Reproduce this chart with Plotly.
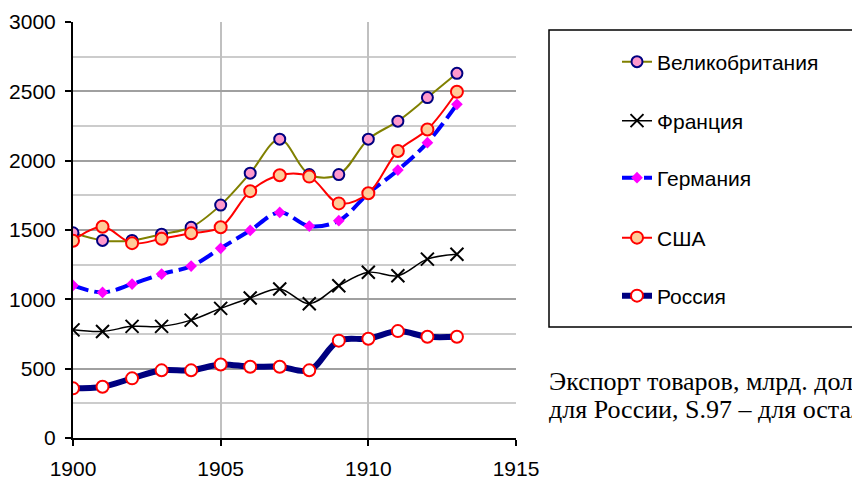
import plotly.graph_objects as go

years = list(range(1900, 1914))
britain = [1480, 1425, 1425, 1470, 1520, 1680, 1910, 2155, 1900, 1900, 2155, 2285, 2455, 2630]
france = [780, 768, 805, 805, 850, 935, 1010, 1075, 968, 1098, 1195, 1170, 1290, 1325]
germany = [1100, 1050, 1110, 1182, 1240, 1368, 1497, 1627, 1528, 1567, 1764, 1932, 2130, 2406]
usa = [1423, 1523, 1405, 1437, 1476, 1520, 1780, 1895, 1885, 1692, 1765, 2070, 2225, 2497]
russia = [358, 370, 430, 488, 488, 530, 514, 514, 488, 702, 716, 771, 730, 730]

names = ["Великобритания", "Франция", "Германия", "США", "Россия"]
x_ticks = [1900, 1905, 1910, 1915]
y_ticks = [0, 500, 1000, 1500, 2000, 2500, 3000]

FONT = "Arial, Liberation Sans, sans-serif"
SERIF = "Liberation Serif, Times New Roman, serif"

fig = go.Figure()
fig.add_trace(go.Scatter(
    x=years, y=britain, name=names[0], mode="lines+markers", legend="legend",
    line=dict(color="#808000", width=2, shape="spline", smoothing=1),
    marker=dict(symbol="circle", size=11, color="#ff99cc", line=dict(color="#000080", width=2))))
fig.add_trace(go.Scatter(
    x=years, y=france, name=names[1], mode="lines+markers", legend="legend2",
    line=dict(color="#000000", width=1.5, shape="spline", smoothing=1),
    marker=dict(symbol="x-thin", size=13, color="#000000", line=dict(color="#000000", width=2))))
fig.add_trace(go.Scatter(
    x=years, y=germany, name=names[2], mode="lines+markers", legend="legend3",
    line=dict(color="#0000ff", width=4, shape="spline", smoothing=1, dash="16px,6px"),
    marker=dict(symbol="diamond", size=9, color="#ff00ff")))
fig.add_trace(go.Scatter(
    x=years, y=usa, name=names[3], mode="lines+markers", legend="legend4",
    line=dict(color="#ff0000", width=2, shape="spline", smoothing=1),
    marker=dict(symbol="circle", size=12, color="#ffcc99", line=dict(color="#ff0000", width=2))))
fig.add_trace(go.Scatter(
    x=years, y=russia, name=names[4], mode="lines+markers", legend="legend5",
    line=dict(color="#000080", width=6, shape="spline", smoothing=1),
    marker=dict(symbol="circle", size=12, color="#ffffff", line=dict(color="#ff0000", width=2))))

L, R, T, B = 73, 852 - 516, 22, 480 - 438
pw, ph = 852 - L - R, 480 - T - B

def px_x(p):
    return (p - L) / pw

def px_y(p):
    return (480 - B - p) / ph

legend_centers = [62, 121, 178, 238, 296]
legend_keys = ["legend", "legend2", "legend3", "legend4", "legend5"]
legend_layout = {}
for key, cy in zip(legend_keys, legend_centers):
    legend_layout[key] = dict(
        x=px_x(617), y=px_y(cy), xanchor="left", yanchor="middle",
        bgcolor="rgba(0,0,0,0)", borderwidth=0,
        font=dict(family=FONT, size=21, color="#000000"))

fig.update_layout(
    width=852, height=480,
    margin=dict(l=L, r=R, t=T, b=B, autoexpand=False),
    paper_bgcolor="white", plot_bgcolor="white",
    showlegend=True,
    font=dict(family=FONT, size=21, color="#000000"),
    xaxis=dict(range=[1900, 1915], tickvals=x_ticks, ticks="outside", ticklen=6,
               tickwidth=2, tickcolor="#000000", showline=True, linecolor="#000000",
               linewidth=2, showgrid=True, gridcolor="#c0c0c0", gridwidth=2,
               zeroline=False, ticklabelstandoff=5, tickfont=dict(family=FONT, size=21)),
    yaxis=dict(range=[0, 3000], tickvals=y_ticks, ticks="outside", ticklen=6,
               tickwidth=2, tickcolor="#000000", showline=True, linecolor="#000000",
               linewidth=2, showgrid=True, gridcolor="#a0a0a0", gridwidth=1.5,
               minor=dict(dtick=250, showgrid=True, gridcolor="#cccccc", gridwidth=1.5),
               zeroline=False, ticklabelstandoff=5, tickfont=dict(family=FONT, size=21)),
    shapes=[dict(type="rect", xref="paper", yref="paper",
                 x0=px_x(549), x1=px_x(900), y0=px_y(327), y1=px_y(30),
                 line=dict(color="#000000", width=1.5), fillcolor="rgba(0,0,0,0)")],
    annotations=[
        dict(text="Экспорт товаров, млрд. долл.", xref="paper", yref="paper",
             x=px_x(547), y=px_y(381), xanchor="left", yanchor="middle", showarrow=False,
             font=dict(family=SERIF, size=26)),
        dict(text="для России, S.97 – для остальных", xref="paper", yref="paper",
             x=px_x(547), y=px_y(409), xanchor="left", yanchor="middle", showarrow=False,
             font=dict(family=SERIF, size=26)),
    ],
    **legend_layout,
)

fig.write_html("out.html", config={"displayModeBar": False},
               post_script="document.body.style.margin='0px';document.body.style.overflow='hidden';")
